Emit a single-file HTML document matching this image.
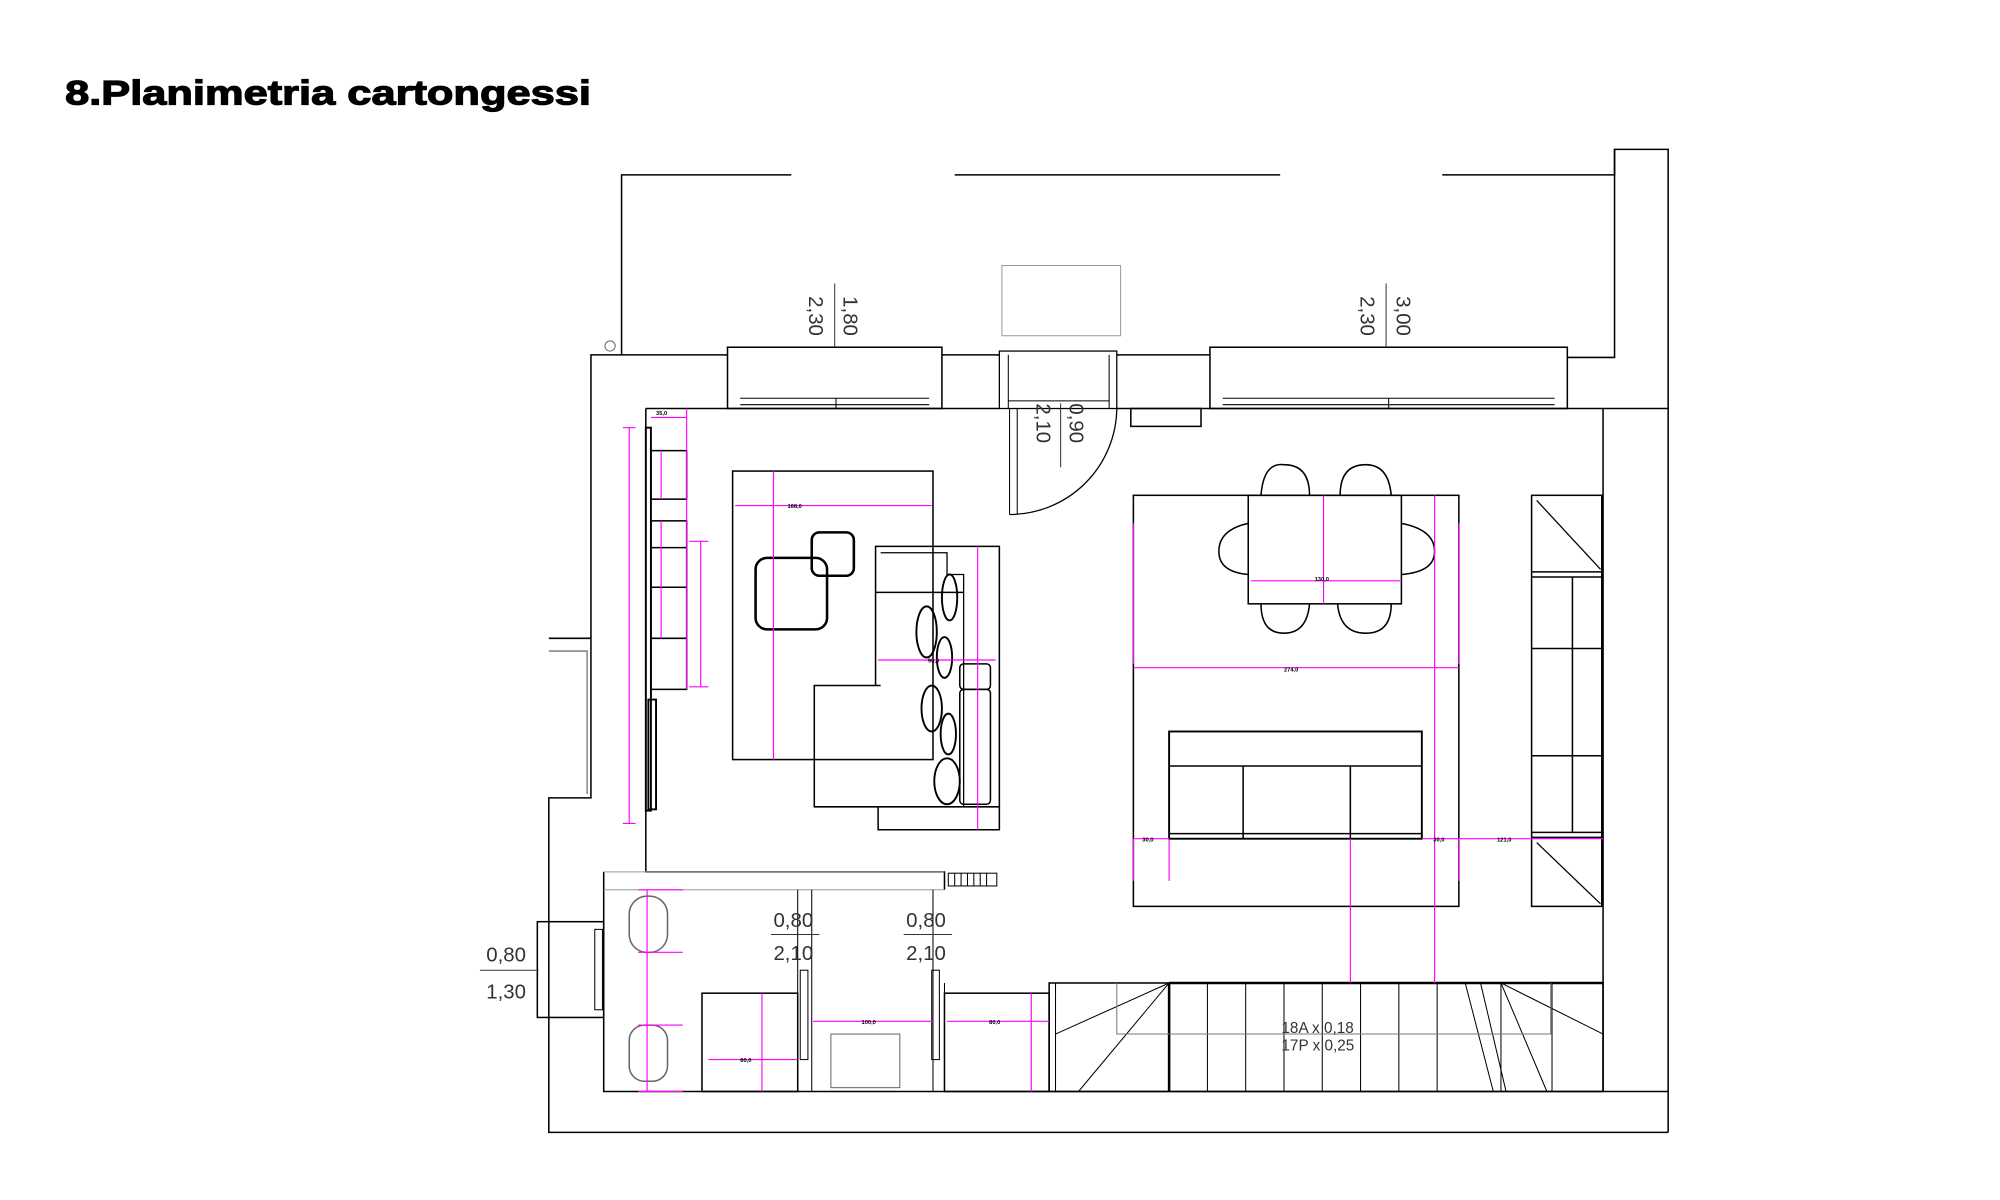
<!DOCTYPE html>
<html><head><meta charset="utf-8"><style>
html,body{margin:0;padding:0;background:#fff;}
svg{display:block;}
</style></head><body>
<svg width="2000" height="1200" viewBox="0 0 1567 940" preserveAspectRatio="none" xmlns="http://www.w3.org/2000/svg" font-family="Liberation Sans, sans-serif">
<rect width="1567" height="940" fill="#fff"/>
<text x="51" y="82" font-size="27" font-weight="bold" fill="#000" stroke="#000" stroke-width="0.9" textLength="412" lengthAdjust="spacingAndGlyphs">8.Planimetria cartongessi</text>
<g fill="none" stroke="#000" stroke-width="1.2">
<path d="M487 278V137H620M748 137H1003M1130 137H1265V117H1307V887"/>
<path d="M1265 117V280H1228"/>
<circle cx="478" cy="271" r="4" stroke-width="0.8" stroke="#666"/>
<rect x="785" y="208" width="93" height="55" stroke="#999" stroke-width="0.8"/>
<path d="M570 278H463V500"/>
<path d="M738 278H783M875 278H948"/>
<rect x="570" y="272" width="168" height="48"/>
<rect x="948" y="272" width="280" height="48"/>
<path d="M580 312H728M580 317H728M958 312H1218M958 317H1218M655 312V320M1088 312V320" stroke-width="0.8"/>
<rect x="783" y="275" width="92" height="45" stroke-width="1"/>
<path d="M790 278V320M869 278V320M790 314H869" stroke-width="0.8"/>
<path d="M506 320H783M875 320H1307"/>
<path d="M791 320V403M797 320V403" stroke-width="0.8"/>
<path d="M791 403A84 84 0 0 0 875 320" stroke-width="1"/>
<rect x="886" y="320" width="55" height="14"/>
<path d="M506 320V683H740V697"/>
<path d="M430 500H463V625H430V887H1307"/>
<path d="M430 510H460V622" stroke="#888"/>
<path d="M473 683V855H1307"/>
<path d="M473 683H740M473 697H740" stroke="#999" stroke-width="0.8"/>
<rect x="743" y="684" width="38" height="10" stroke-width="0.8"/>
<path d="M748 684V694M753 684V694M758 684V694M763 684V694M768 684V694M773 684V694" stroke-width="0.8"/>
<rect x="421" y="722" width="52" height="75"/>
<rect x="466" y="728" width="6" height="63" stroke-width="0.8"/>
<rect x="506" y="335" width="4" height="300" stroke-width="1.5"/>
<rect x="510" y="353" width="28" height="38"/>
<rect x="510" y="408" width="28" height="132"/>
<path d="M510 429H538M510 460H538M510 500H538"/>
<rect x="508" y="548" width="6" height="86" stroke-width="1.5"/>
<rect x="574" y="369" width="157" height="226"/>
<rect x="592" y="437" width="56" height="56" rx="9" stroke-width="2"/>
<rect x="636" y="417" width="33" height="34" rx="6" stroke-width="2"/>
<path d="M638 595V537H690"/>
<path d="M638 595V632H783V428H686V537"/>
<path d="M688 632V650H783V632"/>
<path d="M690 433H742V450H755V632" stroke-width="1"/>
<path d="M686 464H755" />
<rect x="752" y="520" width="24" height="20" rx="3"/>
<rect x="752" y="540" width="24" height="90" rx="3"/>
<ellipse cx="744" cy="468" rx="6" ry="18" stroke-width="1.5"/>
<ellipse cx="726" cy="495" rx="8" ry="20" stroke-width="1.5"/>
<ellipse cx="740" cy="515" rx="6" ry="16" stroke-width="1.5"/>
<ellipse cx="730" cy="555" rx="8" ry="18" stroke-width="1.5"/>
<ellipse cx="743" cy="575" rx="6" ry="16" stroke-width="1.5"/>
<ellipse cx="742" cy="612" rx="10" ry="18" stroke-width="1.5"/>
<rect x="888" y="388" width="255" height="322"/>
<rect x="978" y="388" width="120" height="85"/>
<path d="M988 388Q990 362 1006 364Q1026 364 1026 388M1050 388Q1050 364 1070 364Q1088 364 1090 388"/>
<path d="M988 473Q988 496 1006 496Q1024 496 1026 473M1048 473Q1050 496 1070 496Q1090 496 1090 473"/>
<path d="M978 410Q955 415 955 432Q955 448 978 450M1098 410Q1124 415 1124 432Q1124 448 1098 450"/>
<rect x="916" y="573" width="198" height="84" stroke-width="1.5"/>
<path d="M916 600H1114M916 653H1114M974 600V657M1058 600V657"/>
<rect x="1200" y="388" width="55" height="322" stroke-width="1.2"/>
<path d="M1200 448H1255M1200 452H1255M1200 508H1255M1200 592H1255M1200 652H1255M1200 656H1255M1232 452V652"/>
<path d="M1204 392L1254 446M1204 660L1254 708" stroke-width="1"/>
<path d="M1256 320V855"/>
<rect x="550" y="778" width="75" height="77"/>
<rect x="740" y="778" width="82" height="77"/>
<path d="M625 697V855M636 697V855M731 697V855M740 855V770" stroke-width="0.8"/>
<rect x="627" y="760" width="6" height="70" stroke-width="0.8"/>
<rect x="730" y="760" width="6" height="70" stroke-width="0.8"/>
<rect x="651" y="810" width="54" height="42" stroke="#666" stroke-width="0.8"/>
<rect x="493" y="702" width="30" height="44" rx="14" stroke="#666"/>
<rect x="493" y="803" width="30" height="44" rx="12" stroke="#666"/>
<rect x="822" y="770" width="434" height="85"/>
<path d="M827 770V855M916 770V855M946 770V855M976 770V855M1006 770V855M1036 770V855M1066 770V855M1096 770V855M1126 770V855M1176 770V855M1216 770V855" stroke-width="0.8"/>
<path d="M916 770V855M916 770H1256" stroke-width="2"/>
<path d="M827 810L916 770M845 855L916 770M1176 770L1256 810M1176 770L1212 855M1148 770L1170 855M1160 770L1180 855" stroke-width="0.8"/>
<path d="M875 770V810H1215V770" stroke="#777" stroke-width="0.8"/>
</g>
<g stroke="#f0f" stroke-width="0.9" fill="none">
<path d="M493 335V645M488 335H498M488 645H498"/>
<path d="M510 327H538M538 320V540"/>
<path d="M518 353V391M518 408V460M518 460V500"/>
<path d="M549 424V538M540 424H555M540 538H555"/>
<path d="M576 396H730M606 369V595"/>
<path d="M688 517H780M766 428V650"/>
<path d="M888 523H1143M888 410V520M1143 410V520M1037 388V473M980 455H1098"/>
<path d="M1124 388V770M1058 657V770M888 657H916M1114 657H1256M888 657V690M916 657V690M1143 657V690"/>
<path d="M507 697V855M500 697H535M500 746H535M500 803H535M500 855H535"/>
<path d="M597 778V855M555 830H625M637 800H731M742 800H822M808 778V855"/>
</g>
<g font-size="4.5" font-weight="bold" fill="#000">
<text x="514" y="325">35,0</text><text x="617" y="398">168,0</text><text x="1006" y="526">274,0</text>
<text x="1030" y="455">130,0</text><text x="727" y="519">90,0</text>
<text x="895" y="659">30,0</text><text x="1123" y="659">30,0</text><text x="1173" y="659">121,0</text>
<text x="675" y="802">100,0</text><text x="775" y="802">80,0</text><text x="580" y="832">80,0</text>
</g>
<g font-size="16" fill="#333">
<text transform="translate(634,232) rotate(90)">2,30</text>
<text transform="translate(661,232) rotate(90)">1,80</text>
<path d="M654 222V272" stroke="#333" stroke-width="0.8"/>
<text transform="translate(1066,232) rotate(90)">2,30</text>
<text transform="translate(1094,232) rotate(90)">3,00</text>
<path d="M1086 222V272" stroke="#333" stroke-width="0.8"/>
<text transform="translate(812,316) rotate(90)">2,10</text>
<text transform="translate(838,316) rotate(90)">0,90</text>
<path d="M831 316V366" stroke="#333" stroke-width="0.8"/>
<text x="606" y="726">0,80</text><text x="606" y="752">2,10</text><path d="M604 732H642" stroke="#333" stroke-width="0.8"/>
<text x="710" y="726">0,80</text><text x="710" y="752">2,10</text><path d="M708 732H746" stroke="#333" stroke-width="0.8"/>
<text x="381" y="753">0,80</text><text x="381" y="782">1,30</text><path d="M376 760H422" stroke="#333" stroke-width="0.8"/>
<text x="1004" y="809" font-size="12">18A x 0,18</text>
<text x="1004" y="823" font-size="12">17P x 0,25</text>
</g>
</svg>
</body></html>
